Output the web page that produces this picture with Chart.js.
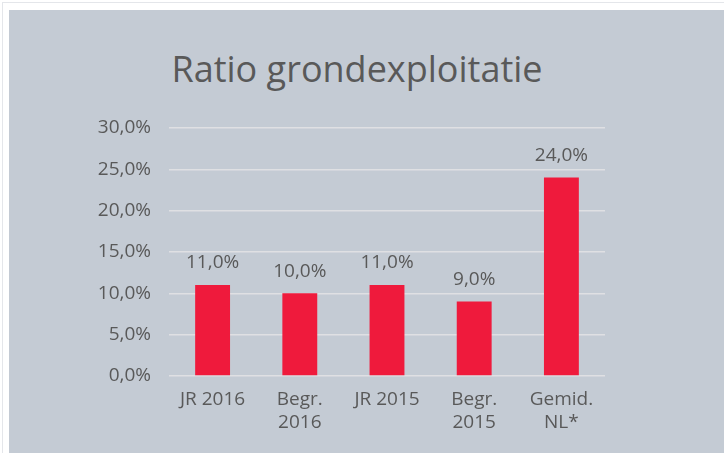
<!DOCTYPE html>
<html><head><meta charset="utf-8">
<script src="https://cdn.jsdelivr.net/npm/chart.js@4.4.1/dist/chart.umd.min.js"></script>
<style>
html,body{margin:0;padding:0;background:#fff;width:724px;height:453px;overflow:hidden;}
#outer{position:absolute;left:2px;top:2px;width:722px;height:451px;border-left:1px solid #e4e6ea;border-top:1px solid #e4e6ea;}
#panel{position:absolute;left:9px;top:10px;width:715px;height:443px;background:#c4cbd4;}
#title{position:absolute;left:0;top:44px;width:714px;text-align:center;font-family:"Open Sans",sans-serif;font-size:36px;color:#595959;white-space:nowrap;}
#wrap{position:absolute;left:0;top:0;width:724px;height:453px;}
</style></head>
<body>
<div id="outer"></div>
<div id="panel"></div>
<div id="title">Ratio grondexploitatie</div>
<div id="wrap"><canvas id="c" width="724" height="453"></canvas></div>
<script>
const categories = [["JR 2016"], ["Begr.", "2016"], ["JR 2015"], ["Begr.", "2015"], ["Gemid.", "NL*"]];
const values = [11.0, 10.0, 11.0, 9.0, 24.0];
const yTicks = [0, 5, 10, 15, 20, 25, 30];

const fmt = v => v.toFixed(1).replace('.', ',') + '%';
const TXT = '#595959';
const FONT = '"Open Sans", sans-serif';

const labelPlugin = {
  id: 'barLabels',
  afterDatasetsDraw(chart) {
    const ctx = chart.ctx;
    const meta = chart.getDatasetMeta(0);
    ctx.save();
    ctx.font = '19px ' + FONT;
    ctx.fillStyle = TXT;
    ctx.textAlign = 'center';
    ctx.textBaseline = 'middle';
    meta.data.forEach((bar, i) => {
      ctx.fillText(fmt(values[i]), bar.x, bar.y - 22);
    });
    ctx.restore();
  }
};

new Chart(document.getElementById('c'), {
  type: 'bar',
  data: {
    labels: categories,
    datasets: [{
      data: values,
      backgroundColor: '#ef1a3c',
      categoryPercentage: 1,
      barPercentage: 0.4
    }]
  },
  options: {
    responsive: false,
    animation: false,
    events: [],
    layout: { padding: { top: 128, right: 119, left: 0, bottom: 0 } },
    plugins: { legend: { display: false }, tooltip: { enabled: false }, title: { display: false } },
    scales: {
      x: {
        grid: { display: false, drawTicks: false },
        border: { display: false },
        ticks: { color: TXT, font: { family: FONT, size: 19 }, padding: 12, maxRotation: 0, autoSkip: false },
        afterFit(s) { s.height = 77; }
      },
      y: {
        min: 0, max: 30,
        afterBuildTicks(s) { s.ticks = yTicks.map(v => ({ value: v })); },
        grid: { color: '#dfe0e3', lineWidth: 1.5, drawTicks: false },
        border: { display: false },
        ticks: { color: TXT, font: { family: FONT, size: 19 }, padding: 18, callback: v => fmt(v) },
        afterFit(s) { s.width = 169; }
      }
    }
  },
  plugins: [labelPlugin]
});
</script>
</body></html>
